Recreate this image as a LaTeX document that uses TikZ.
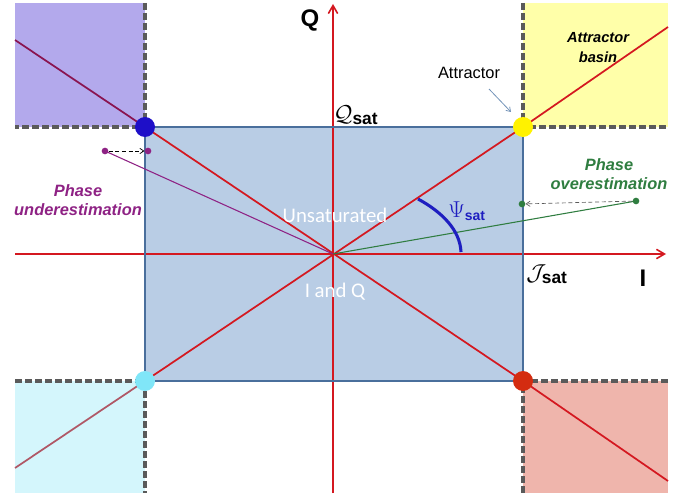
\documentclass[tikz,border=0pt]{standalone}
\usepackage{fontspec}
\setmainfont{Liberation Sans}
\setsansfont{Liberation Sans}
\newfontfamily\calibrifont{Carlito}
\usetikzlibrary{arrows.meta}
\definecolor{rectfill}{HTML}{B9CDE5}
\definecolor{rectdraw}{HTML}{4A6F9C}
\definecolor{axisred}{HTML}{D41820}
\definecolor{tlfill}{HTML}{B3A9EC}
\definecolor{trfill}{HTML}{FFFFA9}
\definecolor{blfill}{HTML}{D4F6FC}
\definecolor{brfill}{HTML}{EFB5AC}
\definecolor{tlline}{HTML}{8A1450}
\definecolor{blline}{HTML}{B05866}
\definecolor{dotblue}{HTML}{1E0FC8}
\definecolor{dotyellow}{HTML}{FFF200}
\definecolor{dotcyan}{HTML}{80E6F8}
\definecolor{dotred}{HTML}{D42C10}
\definecolor{phpurple}{HTML}{8E2284}
\definecolor{phgreen}{HTML}{2F7D40}
\definecolor{dashgray}{HTML}{5A5A5A}
\definecolor{psiblue}{HTML}{1E1EC0}
\definecolor{attrarrow}{HTML}{7393B8}
\begin{document}
\begin{tikzpicture}[x=0.75pt,y=-0.75pt,
  regionborder/.style={draw=dashgray,line width=2.4pt,dash pattern=on 5pt off 2.5pt},
  diag/.style={line width=1.3pt},
  axisline/.style={draw=axisred,line width=1.2pt,-{Straight Barb[length=6pt,width=7pt]}},
  bigdot/.style={circle,inner sep=0pt,minimum size=15pt},
  smalldot/.style={circle,inner sep=0pt,minimum size=5pt},
  phlabel/.style={font=\fontsize{12.3}{14.5}\selectfont\bfseries\itshape,align=center},
  lbl/.style={font=\fontsize{12.3}{14.5}\selectfont},
  innertext/.style={text=white,font=\calibrifont\fontsize{15.6}{18}\selectfont}]
\useasboundingbox (0,0) rectangle (688,495);
% corner regions
\fill[tlfill] (15,3) rectangle (145,127);
\fill[trfill] (523,3) rectangle (668,127);
\fill[blfill] (15,381) rectangle (145,493);
\fill[brfill] (523,381) rectangle (668,493);
% saturation rectangle
\fill[rectfill] (145,127) rectangle (523,381);
\coordinate (O) at (333,254);
\coordinate (TL) at (145,127);
\coordinate (TR) at (523,127);
\coordinate (BL) at (145,381);
\coordinate (BR) at (523,381);
\coordinate (TLend) at (15,40);
\coordinate (TRend) at (668,27);
\coordinate (BLend) at (15,468);
\coordinate (BRend) at (668,481);
% diagonals
\draw[diag,axisred] (TL) -- (BR);
\draw[diag,axisred] (BL) -- (TR);
\draw[diag,tlline] (TLend) -- (TL);
\draw[diag,axisred] (TR) -- (TRend);
\draw[diag,blline] (BLend) -- (BL);
\draw[diag,axisred] (BR) -- (BRend);
% axes
\coordinate (Ibeg) at (15,254);
\coordinate (Iend) at (666,254);
\coordinate (Qbeg) at (333,493);
\coordinate (Qend) at (333,4);
\draw[axisline] (Ibeg) -- (Iend);
\draw[axisline] (Qbeg) -- (Qend);
% rectangle border
\draw[rectdraw,line width=1.3pt] (TL) rectangle (BR);
% dashed borders
\draw[regionborder] (145,3) -- (145,127) -- (15,127);
\draw[regionborder] (523,3) -- (523,127) -- (668,127);
\draw[regionborder] (15,381) -- (145,381) -- (145,493);
\draw[regionborder] (668,381) -- (523,381) -- (523,493);
% phase underestimation
\node[smalldot,fill=phpurple] (pu1) at (105,151) {};
\node[smalldot,fill=phpurple] (pu2) at (148,151) {};
\draw[phpurple,line width=0.8pt] (pu1.center) -- (O);
\draw[densely dashed,line width=0.5pt,-{Straight Barb[length=3pt,width=4pt]}] (pu1) -- (pu2);
% phase overestimation
\node[smalldot,fill=phgreen] (po1) at (636,201) {};
\node[smalldot,fill=phgreen] (po2) at (522,204) {};
\draw[phgreen,line width=0.8pt] (O) -- (po1.center);
\draw[densely dashed,dashgray,line width=0.5pt,-{Straight Barb[length=3pt,width=4pt]}] (po1) -- (po2);
% psi arc
\coordinate (arcA) at (418,199);
\coordinate (arcB) at (461,252);
\draw[psiblue,line width=2.3pt] (arcA) .. controls (442,212) and (460,230) .. (arcB);
\node[text=psiblue,font=\fontsize{16}{18}\selectfont] (psi) at (467,211) {$\Psi_{\textsf{\bfseries\fontsize{10.5}{12}\selectfont sat}}$};
% corner dots
\node[bigdot,fill=dotblue] (dTL) at (TL) {};
\node[bigdot,fill=dotyellow] (dTR) at (TR) {};
\node[bigdot,fill=dotcyan] (dBL) at (BL) {};
\node[bigdot,fill=dotred] (dBR) at (BR) {};
% labels
\node[font=\fontsize{18}{20}\selectfont\bfseries] (Qlab) at (310,20) {Q};
\node[font=\fontsize{18}{20}\selectfont\bfseries] (Ilab) at (643,278) {I};
\node[font=\fontsize{16}{18}\selectfont] (Qsat) at (356,115) {$\mathcal{Q}_{\textsf{\bfseries\fontsize{13}{15}\selectfont sat}}$};
\node[font=\fontsize{16}{18}\selectfont] (Jsat) at (547,274) {$\mathcal{J}_{\textsf{\bfseries\fontsize{13}{15}\selectfont sat}}$};
\node[lbl] (attr) at (469,73) {Attractor};
\coordinate (attrA) at (489,89);
\coordinate (attrB) at (511,112);
\draw[attrarrow,line width=0.6pt,-{Straight Barb[length=3pt,width=4pt]}] (attrA) -- (attrB);
\node[font=\fontsize{11}{15}\selectfont\bfseries\itshape,align=center] (basin) at (598,48) {Attractor\\basin};
\node[phlabel,text=phpurple] (under) at (78,200) {Phase\\underestimation};
\node[phlabel,text=phgreen] (over) at (609,174) {Phase\\overestimation};
\node[innertext] (unsat) at (335,215) {Unsaturated};
\node[innertext] (iq) at (335,292) {I and Q};
\end{tikzpicture}
\end{document}
